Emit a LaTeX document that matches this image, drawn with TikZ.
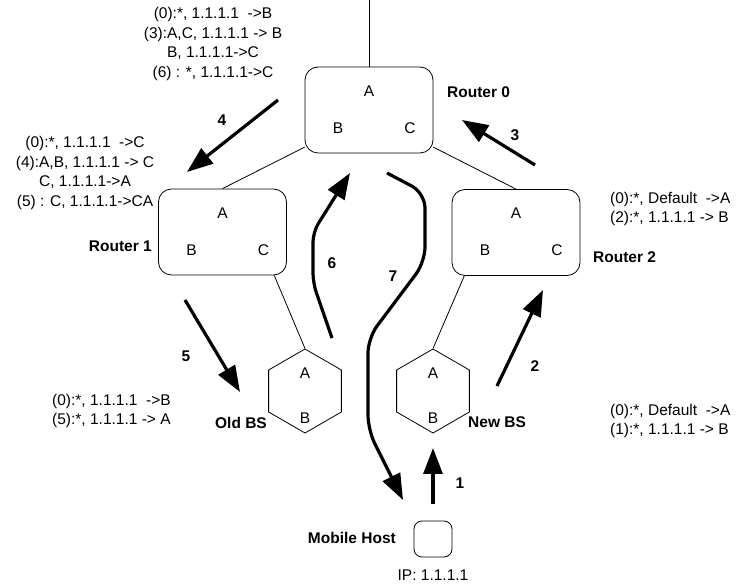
\documentclass[tikz,border=0pt]{standalone}
\usepackage{fontspec}
\setmainfont{Liberation Sans}
\usetikzlibrary{shapes.geometric,arrows.meta,calc}
\begin{document}
\begin{tikzpicture}[x=1pt,y=-1pt,
  every node/.style={font=\fontsize{15.5}{19.5}\selectfont, inner sep=0pt},
  router/.style={draw, line width=0.8pt, rectangle, rounded corners=13pt, minimum width=128pt, minimum height=86pt},
  hexa/.style={draw, line width=0.8pt, regular polygon, regular polygon sides=6, shape border rotate=30, minimum size=84pt},
  host/.style={draw, line width=0.8pt, rectangle, rounded corners=8pt, minimum width=38pt, minimum height=36pt},
  wire/.style={line width=0.8pt},
  bigarrow/.style={line width=3.2pt, line join=round, -{Triangle[length=26pt,width=19pt]}},
  lbl/.style={font=\fontsize{15.5}{19.5}\selectfont\bfseries},
  rtab/.style={align=center},
  ltab/.style={align=left},
]
\useasboundingbox (0,0) rectangle (740,585);

% routers
\node[router] (r0) at (369,110) {};
\node[router] (r1) at (222.5,232) {};
\node[router] (r2) at (516,232.5) {};
\foreach \r in {r0,r1,r2}{
  \node (\r A) at ($(\r)+(0,-19)$) {A};
  \node (\r B) at ($(\r)+(-31,18)$) {B};
  \node (\r C) at ($(\r)+(41,18)$) {C};
}

% base stations
\node[hexa] (obs) at (305,391) {};
\node[hexa] (nbs) at (433,391) {};
\foreach \h in {obs,nbs}{
  \node (\h A) at ($(\h)+(0,-18)$) {A};
  \node (\h B) at ($(\h)+(0,27)$) {B};
}

% mobile host
\node[host] (mh) at (433,539) {};

% wires
\coordinate (top) at (369,0);
\draw[wire] (top) -- (r0.north);
\draw[wire] (r0.210) -- (r1.north);
\draw[wire] (r0.-30) -- (r2.north);
\draw[wire] (r1.-40) -- (obs.north);
\draw[wire] (r2.220) -- (nbs.north);

% names
\node[lbl, anchor=west] (n0) at (447,92) {Router 0};
\node[lbl, anchor=east] (n1) at (152,246) {Router 1};
\node[lbl, anchor=west] (n2) at (593,257) {Router 2};
\node[lbl, anchor=east] (nobs) at (267,423) {Old BS};
\node[lbl, anchor=west] (nnbs) at (468,422) {New BS};
\node[lbl, anchor=east] (nmh) at (396,538) {Mobile Host};
\node (ip) at (433,575) {IP: 1.1.1.1};

% tables
\node[rtab] (t0) at (213,44) {(0):*, 1.1.1.1\ \ ->B\\(3):A,C, 1.1.1.1 -> B\\B, 1.1.1.1->C\\(6) : *, 1.1.1.1->C};
\node[rtab] (t1) at (85,173) {(0):*, 1.1.1.1\ \ ->C\\(4):A,B, 1.1.1.1 -> C\\C, 1.1.1.1->A\\(5) : C, 1.1.1.1->CA};
\node[ltab, anchor=west] (t2) at (610,209) {(0):*, Default\ \ ->A\\(2):*, 1.1.1.1 -> B};
\node[ltab, anchor=west] (tobs) at (52,411) {(0):*, 1.1.1.1\ \ ->B\\(5):*, 1.1.1.1 -> A};
\node[ltab, anchor=west] (tnbs) at (610,421) {(0):*, Default\ \ ->A\\(1):*, 1.1.1.1 -> B};

% message arrows
\coordinate (a1s) at (433,504); \coordinate (a1e) at (433,448);
\coordinate (a2s) at (497,386); \coordinate (a2e) at (543,290);
\coordinate (a3s) at (535,165); \coordinate (a3e) at (462,120);
\coordinate (a4s) at (278,100); \coordinate (a4e) at (187,172);
\coordinate (a5s) at (185,300); \coordinate (a5e) at (240,392);
\coordinate (a6s) at (332,338); \coordinate (a6e) at (350,173);
\coordinate (a7s) at (387,173); \coordinate (a7e) at (403,500);

\draw[bigarrow] (a1s) -- (a1e);
\draw[bigarrow] (a2s) -- (a2e);
\draw[bigarrow] (a3s) -- (a3e);
\draw[bigarrow] (a4s) -- (a4e);
\draw[bigarrow] (a5s) -- (a5e);
\draw[bigarrow, rounded corners=10pt] (a6s) -- (313,283) -- (313,232) -- (a6e);
\draw[bigarrow, rounded corners=15pt] (a7s) -- (425,193) -- (425,262) -- (368,338) -- (368,430) -- (a7e);

\node[lbl] (l1) at (460,483) {1};
\node[lbl] (l2) at (535,366) {2};
\node[lbl] (l3) at (515,135) {3};
\node[lbl] (l4) at (222,120) {4};
\node[lbl] (l5) at (186,356) {5};
\node[lbl] (l6) at (332,263) {6};
\node[lbl] (l7) at (393,276) {7};
\end{tikzpicture}
\end{document}
